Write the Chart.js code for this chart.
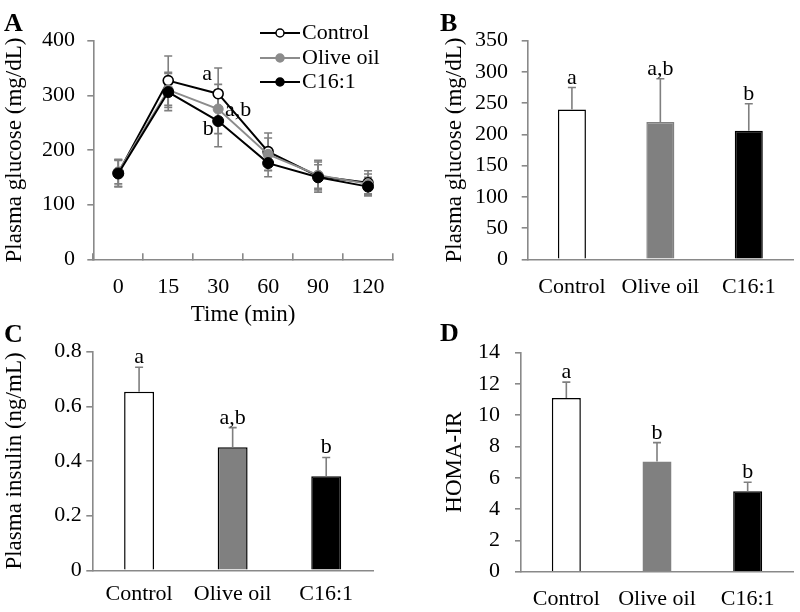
<!DOCTYPE html>
<html>
<head>
<meta charset="utf-8">
<script src="https://cdn.jsdelivr.net/npm/chart.js@4/dist/chart.umd.min.js"></script>
<style>
	body { margin: 0; background: #fff; }
	#wrap { position: relative; width: 800px; height: 612px; }
	#wrap canvas { position: absolute; left: 0; top: 0; }
	.panel { position: absolute; font: bold 26px 'Liberation Serif', 'Times New Roman', serif; line-height: 26px; color: #000; }
</style>
</head>
<body>
<div id="wrap">
	<canvas id="chartC" width="800" height="612"></canvas>
	<canvas id="chartD" width="800" height="612"></canvas>
	<canvas id="chartB" width="800" height="612"></canvas>
	<canvas id="chartA" width="800" height="612"></canvas>
	<div class="panel" style="left:4px; top:10px;">A</div>
	<div class="panel" style="left:440px; top:10px;">B</div>
	<div class="panel" style="left:4px; top:321px;">C</div>
	<div class="panel" style="left:440px; top:320px;">D</div>
</div>
<script>
// ----- ----- -----
// data
// ----- ----- -----

const timeLabels = ['0', '15', '30', '60', '90', '120'];

const glucoseControl = [158, 327, 303, 197, 152, 140];
const glucoseControlErr = [25, 45, 47, 34, 29, 22];
const glucoseOlive = [160, 310, 275, 192, 154, 138];
const glucoseOliveErr = [22, 32, 45, 30, 24, 18];
const glucoseC161 = [157, 306, 253, 176, 150, 133];
const glucoseC161Err = [24, 34, 47, 25, 23, 17];
// letters at 30 min (control, olive oil, C16:1)
const glucoseLetters30 = ['a', 'a,b', 'b'];

const groups = ['Control', 'Olive oil', 'C16:1'];

const meanGlucose = [240, 220, 206];
const meanGlucoseErr = [35, 69, 43];
const meanGlucoseLetters = ['a', 'a,b', 'b'];

const insulin = [0.653, 0.45, 0.344];
const insulinErr = [0.09, 0.072, 0.069];
const insulinLetters = ['a', 'a,b', 'b'];

const homaIR = [11.1, 7.05, 5.15];
const homaIRErr = [1.02, 1.2, 0.57];
const homaIRLetters = ['a', 'b', 'b'];

// ----- ----- -----
// common styles
// ----- ----- -----

const serif = "'Liberation Serif', 'Times New Roman', serif";
const tickFont = {family: serif, size: 22, lineHeight: 1.2};
const titleFont = {family: serif, size: 23, lineHeight: 1.2};
const axisGray = '#898989';
const errGray = '#7f7f7f';

Chart.defaults.color = '#000';

function drawErrorBars(chart, errorSets, bothWays) {
	const ctx = chart.ctx;
	const yScale = chart.scales.y;
	ctx.save();
	ctx.strokeStyle = errGray;
	ctx.lineWidth = 1.6;
	errorSets.forEach((errs, i) => {
		const meta = chart.getDatasetMeta(i);
		const values = chart.data.datasets[i].data;
		meta.data.forEach((el, j) => {
			if (errs[j] == null) return;
			const x = el.x;
			const top = yScale.getPixelForValue(values[j] + errs[j]);
			const bottom = yScale.getPixelForValue(bothWays ? values[j] - errs[j] : values[j]);
			ctx.beginPath();
			ctx.moveTo(x, bottom);
			ctx.lineTo(x, top);
			ctx.moveTo(x - 4, top);
			ctx.lineTo(x + 4, top);
			if (bothWays) {
				ctx.moveTo(x - 4, bottom);
				ctx.lineTo(x + 4, bottom);
			}
			ctx.stroke();
		});
	});
	ctx.restore();
}

function barLetters(chart, errs, letters) {
	const ctx = chart.ctx;
	const yScale = chart.scales.y;
	const meta = chart.getDatasetMeta(0);
	const values = chart.data.datasets[0].data;
	ctx.save();
	ctx.font = '22px ' + serif;
	ctx.fillStyle = '#000';
	ctx.textAlign = 'center';
	ctx.textBaseline = 'alphabetic';
	meta.data.forEach((el, j) => {
		const top = yScale.getPixelForValue(values[j] + errs[j]);
		ctx.fillText(letters[j], el.x, top - 4);
	});
	ctx.restore();
}

function barChart(id, values, errs, letters, opts) {
	return new Chart(id, {
		type: 'bar',
		data: {
			labels: groups,
			datasets: [{
				data: values,
				backgroundColor: ['#ffffff', '#808080', '#000000'],
				borderColor: ['#000000', opts.oliveBorder, '#000000'],
				borderWidth: 1.5,
				barPercentage: opts.barPct,
				categoryPercentage: 1
			}]
		},
		options: {
			responsive: false,
			animation: false,
			devicePixelRatio: 1,
			layout: {padding: opts.padding},
			plugins: {legend: {display: false}, tooltip: {enabled: false}},
			scales: {
				x: {
					grid: {display: true, drawOnChartArea: false, drawTicks: false, color: axisGray},
					border: {color: axisGray, width: 1.6},
					ticks: {font: tickFont, color: '#000', padding: opts.xPad, maxRotation: 0},
					afterFit(s) { s.height = opts.xHeight; }
				},
				y: {
					min: 0,
					max: opts.max,
					ticks: {stepSize: opts.step, font: tickFont, color: '#000', padding: opts.yPad},
					grid: {drawOnChartArea: false, tickLength: 6, color: axisGray, lineWidth: 1.6},
					border: {color: axisGray, width: 1.6},
					title: {display: true, text: opts.title, font: titleFont, color: '#000', padding: {top: 1.2, bottom: 0}},
					afterFit(s) { s.width = opts.yWidth; }
				}
			}
		},
		plugins: [{
			id: 'errorsAndLetters',
			afterDatasetsDraw(chart) {
				drawErrorBars(chart, [errs], false);
				barLetters(chart, errs, letters);
			}
		}]
	});
}

// ----- ----- -----
// A: glucose tolerance curve
// ----- ----- -----

const chartA = new Chart('chartA', {
	type: 'line',
	data: {
		labels: timeLabels,
		datasets: [{
			label: 'Control',
			data: glucoseControl,
			borderColor: '#000',
			borderWidth: 2,
			pointBackgroundColor: '#fff',
			pointBorderColor: '#000',
			pointBorderWidth: 1.6,
			pointRadius: 5,
			order: 3
		}, {
			label: 'Olive oil',
			data: glucoseOlive,
			borderColor: '#8c8c8c',
			borderWidth: 2,
			pointBackgroundColor: '#8c8c8c',
			pointBorderColor: '#8c8c8c',
			pointBorderWidth: 1,
			pointRadius: 5,
			order: 2
		}, {
			label: 'C16:1',
			data: glucoseC161,
			borderColor: '#000',
			borderWidth: 2,
			pointBackgroundColor: '#000',
			pointBorderColor: '#000',
			pointBorderWidth: 1,
			pointRadius: 5.5,
			order: 1
		}]
	},
	options: {
		responsive: false,
		animation: false,
		devicePixelRatio: 1,
		layout: {padding: {left: 0, top: 40.7, right: 407, bottom: 277.7}},
		plugins: {legend: {display: false}, tooltip: {enabled: false}},
		scales: {
			x: {
				offset: true,
				grid: {offset: true, drawOnChartArea: false, tickLength: -6, color: axisGray, lineWidth: 1.6},
				border: {color: axisGray, width: 1.6},
				ticks: {font: tickFont, color: '#000', padding: 21, maxRotation: 0},
				title: {display: true, text: 'Time (min)', font: titleFont, color: '#000', padding: {top: 0, bottom: 5.5}},
				afterFit(s) { s.height = 75; }
			},
			y: {
				min: 0,
				max: 400,
				ticks: {stepSize: 100, font: tickFont, color: '#000', padding: 12.3},
				grid: {drawOnChartArea: false, tickLength: 6, color: axisGray, lineWidth: 1.6},
				border: {color: axisGray, width: 1.6},
				title: {display: true, text: 'Plasma glucose (mg/dL)', font: titleFont, color: '#000', padding: {top: 1.2, bottom: 0}},
				afterFit(s) { s.width = 93.3; }
			}
		}
	},
	plugins: [{
		id: 'errorBarsA',
		beforeDatasetsDraw(chart) {
			drawErrorBars(chart, [glucoseControlErr, glucoseOliveErr, glucoseC161Err], true);
		}
	}, {
		id: 'lettersAndLegendA',
		afterDraw(chart) {
			const ctx = chart.ctx;
			ctx.save();
			ctx.font = '22px ' + serif;
			ctx.fillStyle = '#000';

			// letters at 30 min
			const offsets = [[-11, -14], [20, 7], [-10, 14]];
			glucoseLetters30.forEach((txt, i) => {
				const el = chart.getDatasetMeta(i).data[2];
				ctx.textAlign = 'center';
				ctx.textBaseline = 'alphabetic';
				ctx.fillText(txt, el.x + offsets[i][0], el.y + offsets[i][1]);
			});

			// legend
			const rows = [33, 58, 82];
			chart.data.datasets.forEach((ds, i) => {
				const y = rows[i];
				ctx.strokeStyle = ds.borderColor;
				ctx.lineWidth = 2;
				ctx.beginPath();
				ctx.moveTo(260, y);
				ctx.lineTo(300, y);
				ctx.stroke();
				ctx.beginPath();
				ctx.arc(280, y, 4, 0, Math.PI * 2);
				ctx.fillStyle = ds.pointBackgroundColor;
				ctx.fill();
				ctx.lineWidth = 1.5;
				ctx.strokeStyle = ds.pointBorderColor;
				ctx.stroke();
				ctx.fillStyle = '#000';
				ctx.textAlign = 'left';
				ctx.textBaseline = 'middle';
				ctx.fillText(ds.label, 302, y);
			});
			ctx.restore();
		}
	}]
});

// ----- ----- -----
// B, C, D: bar charts
// ----- ----- -----

const chartB = barChart('chartB', meanGlucose, meanGlucoseErr, meanGlucoseLetters, {
	title: 'Plasma glucose (mg/dL)', max: 350, step: 50,
	padding: {left: 440, top: 40.7, right: 7, bottom: 312.7},
	yWidth: 87.7, yPad: 13.7, xPad: 14.5, xHeight: 40,
	barPct: 0.317, oliveBorder: '#808080'
});

const chartC = barChart('chartC', insulin, insulinErr, insulinLetters, {
	title: 'Plasma insulin (ng/mL)', max: 0.8, step: 0.2,
	padding: {left: 0, top: 351.7, right: 427, bottom: 3.7},
	yWidth: 92.3, yPad: 4.6, xPad: 10.5, xHeight: 38,
	barPct: 0.32, oliveBorder: '#000000'
});

const chartD = barChart('chartD', homaIR, homaIRErr, homaIRLetters, {
	title: 'HOMA-IR', max: 14, step: 2,
	padding: {left: 440, top: 352.7, right: 7, bottom: 2.3},
	yWidth: 81, yPad: 15, xPad: 14.1, xHeight: 38,
	barPct: 0.32, oliveBorder: '#808080'
});
</script>
</body>
</html>
